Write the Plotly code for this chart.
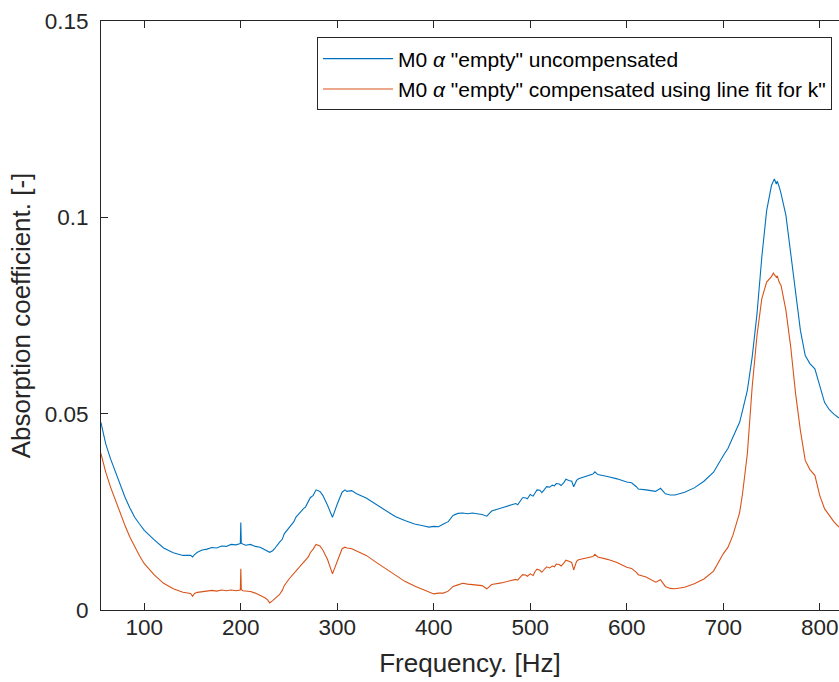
import plotly.graph_objects as go

freq = [55, 60, 65, 70, 75, 80, 85, 90, 95, 100, 110, 120, 130, 140, 148, 150, 152, 155,
        160, 165, 170, 175, 180, 185, 190, 195, 198, 199.5, 200, 200.5, 202, 205, 210, 215,
        220, 225, 228, 230, 233, 235, 240, 243, 245, 250, 255, 257, 260, 262, 265, 267, 270,
        272, 275, 278, 282, 285, 290, 295, 300, 305, 308, 310, 315, 320, 330, 340, 350, 360,
        370, 380, 390, 395, 400, 405, 410, 415, 420, 425, 430, 435, 440, 445, 450, 455, 460,
        470, 480, 485, 487, 490, 492, 495, 497, 500, 503, 505, 507, 510, 512, 515, 517, 520,
        523, 525, 527, 530, 532, 535, 537, 540, 543, 545, 548, 550, 560, 565, 567, 570, 580,
        590, 600, 605, 610, 612, 620, 630, 635, 638, 640, 645, 650, 660, 670, 680, 690, 700,
        705, 710, 712, 715, 717, 720, 725, 730, 735, 740, 745, 750, 752, 753, 755, 756, 758,
        760, 765, 770, 775, 780, 785, 790, 795, 800, 805, 810, 815, 820]

uncompensated = [0.0478, 0.0423, 0.0385, 0.0351, 0.0317, 0.0287, 0.0260, 0.0236, 0.0219,
                 0.0203, 0.0179, 0.0158, 0.0146, 0.0139, 0.0139, 0.0135, 0.0141, 0.0147,
                 0.0153, 0.0155, 0.0159, 0.0158, 0.0163, 0.0162, 0.0167, 0.0166, 0.0168,
                 0.0169, 0.0223, 0.0170, 0.0168, 0.0165, 0.0167, 0.0162,
                 0.0160, 0.0153, 0.0149, 0.0147, 0.0151, 0.0156, 0.0172, 0.0180, 0.0194,
                 0.0211, 0.0225, 0.0236, 0.0245, 0.0249, 0.0258, 0.0262, 0.0275,
                 0.0286, 0.0292, 0.0306, 0.0302, 0.0292, 0.0266, 0.0236, 0.0270, 0.0300,
                 0.0306, 0.0302, 0.0304, 0.0296, 0.0285, 0.0270, 0.0253, 0.0238,
                 0.0228, 0.0219, 0.0214, 0.0211, 0.0213, 0.0212, 0.0219, 0.0225, 0.0241,
                 0.0246, 0.0247, 0.0245, 0.0247, 0.0245, 0.0243, 0.0239, 0.0252,
                 0.0260, 0.0267, 0.0271, 0.0268, 0.0279, 0.0286, 0.0286, 0.0283, 0.0294,
                 0.0290, 0.0298, 0.0306, 0.0305, 0.0299, 0.0308, 0.0314, 0.0313,
                 0.0318, 0.0316, 0.0322, 0.0321, 0.0317, 0.0325, 0.0333, 0.0330, 0.0328,
                 0.0314, 0.0330, 0.0334, 0.0343, 0.0346, 0.0352, 0.0345, 0.0340,
                 0.0334, 0.0326, 0.0324, 0.0314, 0.0308, 0.0306, 0.0302, 0.0310, 0.0300,
                 0.0296, 0.0293, 0.0293, 0.0300, 0.0311, 0.0328, 0.0351, 0.0393,
                 0.0412, 0.0440, 0.0452, 0.0470, 0.0478, 0.0508, 0.0559, 0.0644, 0.0754,
                 0.0899, 0.1017, 0.1081, 0.1093, 0.1098, 0.1085, 0.1092, 0.1078,
                 0.1060, 0.1005, 0.0907, 0.0805, 0.0712, 0.0648, 0.0627, 0.0614, 0.0572,
                 0.0529, 0.0510, 0.0498, 0.0489]

compensated = [0.0399, 0.0351, 0.0313, 0.0279, 0.0245, 0.0215, 0.0186, 0.0160, 0.0138,
               0.0118, 0.0090, 0.0068, 0.0054, 0.0045, 0.0042, 0.0035, 0.0042, 0.0045,
               0.0047, 0.0049, 0.0050, 0.0048, 0.0051, 0.0049, 0.0051, 0.0049, 0.0050,
               0.0051, 0.0105, 0.0052, 0.0049, 0.0048, 0.0047, 0.0043,
               0.0037, 0.0031, 0.0025, 0.0018, 0.0024, 0.0028, 0.0039, 0.0050, 0.0062,
               0.0079, 0.0092, 0.0097, 0.0107, 0.0113, 0.0121, 0.0126, 0.0135,
               0.0146, 0.0155, 0.0167, 0.0163, 0.0153, 0.0128, 0.0092, 0.0126, 0.0156,
               0.0160, 0.0158, 0.0156, 0.0150, 0.0139, 0.0122, 0.0105, 0.0088,
               0.0073, 0.0061, 0.0050, 0.0046, 0.0041, 0.0043, 0.0043, 0.0048, 0.0060,
               0.0064, 0.0068, 0.0066, 0.0065, 0.0063, 0.0062, 0.0054, 0.0065,
               0.0069, 0.0074, 0.0078, 0.0076, 0.0084, 0.0090, 0.0089, 0.0086, 0.0092,
               0.0088, 0.0098, 0.0104, 0.0101, 0.0096, 0.0105, 0.0110, 0.0107,
               0.0112, 0.0110, 0.0117, 0.0116, 0.0112, 0.0120, 0.0127, 0.0124, 0.0121,
               0.0102, 0.0124, 0.0128, 0.0133, 0.0136, 0.0142, 0.0135, 0.0129,
               0.0121, 0.0109, 0.0106, 0.0096, 0.0090, 0.0084, 0.0071, 0.0077, 0.0066,
               0.0060, 0.0055, 0.0054, 0.0058, 0.0067, 0.0079, 0.0099, 0.0143,
               0.0160, 0.0190, 0.0205, 0.0228, 0.0248, 0.0296, 0.0398, 0.0568, 0.0699,
               0.0793, 0.0835, 0.0849, 0.0858, 0.0854, 0.0848, 0.0851, 0.0835,
               0.0826, 0.0763, 0.0669, 0.0551, 0.0457, 0.0381, 0.0357, 0.0343, 0.0292,
               0.0258, 0.0241, 0.0224, 0.0211]

series_names = ['M0 <i>α</i> "empty" uncompensated',
                'M0 <i>α</i> "empty" compensated using line fit for k"']
series_colors = ["#0072BD", "#D95319"]

x_ticks = [100, 200, 300, 400, 500, 600, 700, 800]
y_ticks = [0, 0.05, 0.1, 0.15]

axis_color = "#262626"
font_family = "Liberation Sans, Arial, Helvetica, sans-serif"

fig = go.Figure()
for i, (vals, name, col) in enumerate(zip([uncompensated, compensated], series_names, series_colors)):
    fig.add_trace(go.Scatter(x=freq, y=vals, mode="lines", name=name,
                             legendgroup=f"g{i}",
                             line=dict(color=col, width=1.1)))

fig.update_layout(
    width=839, height=682,
    margin=dict(l=101, r=0, t=21, b=72),
    paper_bgcolor="white", plot_bgcolor="white",
    font=dict(family=font_family, color=axis_color, size=22.5),
    showlegend=True,
    legend=dict(
        x=0.9905, y=0.972, xanchor="right", yanchor="top",
        bgcolor="white", bordercolor=axis_color, borderwidth=1,
        font=dict(size=21, color="#000000"),
        itemwidth=70, tracegroupgap=0,
    ),
    xaxis=dict(
        range=[55.1, 820], tickvals=x_ticks, ticks="inside", ticklen=7,
        tickcolor=axis_color, showline=True, linecolor=axis_color, linewidth=1,
        mirror="ticks", showgrid=False, zeroline=False, automargin=False,
        title=dict(text="Frequency. [Hz]", font=dict(size=26), standoff=14),
        tickfont=dict(size=22.5), ticklabelstandoff=-3,
    ),
    yaxis=dict(
        range=[0, 0.15], tickvals=y_ticks, ticktext=["0", "0.05", "0.1", "0.15"],
        ticks="inside", ticklen=7, tickcolor=axis_color,
        showline=True, linecolor=axis_color, linewidth=1,
        showgrid=False, zeroline=False, automargin=False,
        title=dict(text="Absorption coefficient. [-]", font=dict(size=26), standoff=6),
        tickfont=dict(size=22.5), ticklabelstandoff=7,
    ),
)

# remove the default page margin / scrollbars so the figure sits at the window origin
fig.write_html("out.html",
               config={"displayModeBar": False},
               post_script="document.body.style.margin='0';"
                           "document.body.style.overflow='hidden';")
